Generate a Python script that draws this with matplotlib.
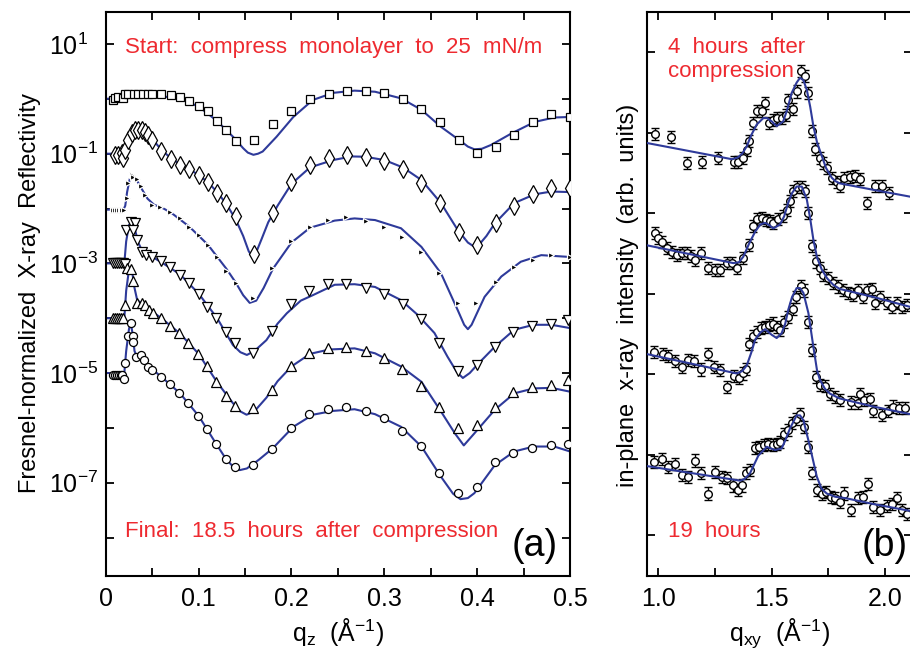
import numpy as np
import matplotlib
matplotlib.use('Agg')
from matplotlib import pyplot as plt
from matplotlib import font_manager
from matplotlib.ticker import FixedLocator, LogLocator, FuncFormatter, NullFormatter

# ---- panel (a): specular reflectivity, values are log10(R/RF) ----
sq_q = [0.008, 0.010, 0.0136, 0.019, 0.021, 0.024, 0.030, 0.035, 0.040, 0.045, 0.050, 0.060, 0.070,
        0.080, 0.090, 0.100, 0.110, 0.120, 0.130, 0.140, 0.160, 0.180, 0.200, 0.220, 0.240, 0.260,
        0.280, 0.300, 0.320, 0.340, 0.360, 0.380, 0.400, 0.420, 0.440, 0.460, 0.480, 0.500]
sq_r = [-0.02, 0.01, 0.04, 0.01, 0.09, 0.09, 0.09, 0.09, 0.09, 0.09, 0.09, 0.09, 0.07,
        0.03, -0.04, -0.13, -0.22, -0.40, -0.56, -0.77, -0.75, -0.46, -0.23, 0.0, 0.08, 0.15,
        0.15, 0.11, 0.0, -0.19, -0.42, -0.75, -0.98, -0.87, -0.65, -0.43, -0.28, -0.33]
sq_fit_q = [0.0, 0.02, 0.04, 0.06, 0.08, 0.10, 0.119, 0.137, 0.148, 0.153, 0.159, 0.164, 0.169,
            0.184, 0.202, 0.223, 0.245, 0.268, 0.29, 0.318, 0.34, 0.361, 0.383, 0.39, 0.397,
            0.405, 0.415, 0.437, 0.462, 0.483, 0.5]
sq_fit_r = [0.0, 0.02, 0.05, 0.05, 0.0, -0.14, -0.39, -0.69, -0.90, -0.98, -1.02, -1.0, -0.96,
            -0.69, -0.33, -0.02, 0.11, 0.15, 0.13, 0.01, -0.20, -0.51, -0.78, -0.87, -0.92,
            -0.91, -0.84, -0.63, -0.42, -0.34, -0.33]

di_q = [0.010, 0.0136, 0.017, 0.019, 0.021, 0.024, 0.028, 0.0315, 0.035, 0.039, 0.042, 0.046, 0.050,
        0.060, 0.070, 0.080, 0.090, 0.100, 0.110, 0.120, 0.130, 0.140, 0.160, 0.180, 0.200, 0.220,
        0.240, 0.260, 0.280, 0.300, 0.320, 0.340, 0.360, 0.380, 0.400, 0.420, 0.440, 0.460, 0.480, 0.500]
di_r = [-1.02, -1.02, -0.99, -1.08, -0.93, -0.75, -0.63, -0.57, -0.56, -0.57, -0.60, -0.66, -0.75,
        -0.95, -1.10, -1.21, -1.27, -1.39, -1.51, -1.71, -1.90, -2.14, -2.82, -2.09, -1.51, -1.21,
        -1.07, -1.02, -1.06, -1.13, -1.28, -1.54, -1.89, -2.42, -2.67, -2.26, -1.95, -1.74, -1.62, -1.62]
di_fit_q = [0.0, 0.018, 0.021, 0.025, 0.03, 0.037, 0.045, 0.05, 0.06, 0.07, 0.08, 0.09, 0.10, 0.11,
            0.12, 0.13, 0.14, 0.148, 0.154, 0.158, 0.162, 0.168, 0.175, 0.185, 0.2, 0.22, 0.245,
            0.265, 0.279, 0.30, 0.32, 0.34, 0.361, 0.379, 0.39, 0.399, 0.41, 0.419, 0.44, 0.462,
            0.48, 0.5]
di_fit_r = [-1.0, -1.0, -0.93, -0.72, -0.60, -0.55, -0.63, -0.73, -0.93, -1.08, -1.19, -1.28, -1.39,
            -1.52, -1.70, -1.92, -2.2, -2.5, -2.78, -2.88, -2.8, -2.55, -2.25, -1.95, -1.55, -1.25,
            -1.115, -1.05, -1.055, -1.115, -1.25, -1.48, -1.90, -2.39, -2.62, -2.72, -2.5, -2.27,
            -1.90, -1.74, -1.69, -1.70]

tr_q = [0.008, 0.010, 0.012, 0.014, 0.016, 0.018, 0.020, 0.0226, 0.0243, 0.028, 0.0297, 0.0333,
        0.0376, 0.0423, 0.0495, 0.058, 0.069, 0.080, 0.090, 0.100, 0.110, 0.120, 0.130, 0.140,
        0.159, 0.179, 0.199, 0.220, 0.239, 0.259, 0.280, 0.300, 0.319, 0.340, 0.359, 0.379,
        0.399, 0.420, 0.440, 0.460, 0.480, 0.500]
tr_r = [-2.02, -2.02, -2.02, -2.02, -2.02, -2.02, -2.02, -1.81, -1.54, -1.39, -1.42, -1.46,
        -1.59, -1.75, -1.94, -1.97, -2.06, -2.18, -2.33, -2.48, -2.66, -2.88, -3.13, -3.35,
        -3.64, -3.09, -2.59, -2.33, -2.20, -2.16, -2.23, -2.33, -2.51, -2.80, -3.17, -3.73,
        -3.73, -3.34, -3.06, -2.94, -2.85, -2.88]
tr_fit_q = [0.0, 0.019, 0.021, 0.023, 0.026, 0.029, 0.033, 0.038, 0.045, 0.052, 0.06, 0.07, 0.09,
            0.11, 0.13, 0.14, 0.148, 0.155, 0.162, 0.17, 0.18, 0.2, 0.22, 0.2466, 0.268, 0.29,
            0.318, 0.34, 0.361, 0.379, 0.386, 0.39, 0.394, 0.40, 0.408, 0.426, 0.447, 0.469,
            0.497, 0.5]
tr_fit_r = [-2.02, -2.02, -1.95, -1.7, -1.45, -1.40, -1.47, -1.62, -1.82, -1.93, -1.98, -2.07, -2.33,
            -2.66, -3.1, -3.35, -3.58, -3.72, -3.68, -3.45, -3.1, -2.62, -2.35, -2.22, -2.18, -2.21,
            -2.36, -2.70, -3.18, -3.85, -4.12, -4.20, -4.12, -3.9, -3.61, -3.24, -2.97, -2.85,
            -2.88, -2.89]

dn_q = [0.008, 0.010, 0.012, 0.014, 0.016, 0.019, 0.0208, 0.0218, 0.0272, 0.031, 0.0297, 0.0333,
        0.0387, 0.043, 0.0495, 0.0595, 0.069, 0.080, 0.0896, 0.100, 0.109, 0.119, 0.129, 0.139,
        0.159, 0.179, 0.199, 0.219, 0.239, 0.259, 0.280, 0.300, 0.320, 0.340, 0.359, 0.379,
        0.400, 0.419, 0.439, 0.459, 0.480, 0.4975]
dn_r = [-3.0, -3.0, -3.0, -3.0, -3.0, -3.0, -3.01, -2.39, -2.24, -2.26, -2.39, -2.57,
        -2.79, -2.85, -2.88, -2.96, -3.06, -3.21, -3.36, -3.56, -3.79, -4.0, -4.25, -4.46,
        -4.63, -4.23, -3.74, -3.50, -3.38, -3.38, -3.45, -3.56, -3.74, -4.02, -4.46, -4.97,
        -4.85, -4.53, -4.25, -4.15, -4.11, -4.03]
dn_fit_q = [0.0, 0.02, 0.022, 0.025, 0.028, 0.031, 0.035, 0.04, 0.05, 0.06, 0.08, 0.10, 0.12, 0.137,
            0.145, 0.152, 0.16, 0.173, 0.185, 0.195, 0.21, 0.223, 0.2466, 0.268, 0.29, 0.318,
            0.336, 0.354, 0.368, 0.378, 0.3846, 0.392, 0.40, 0.419, 0.44, 0.461, 0.48, 0.5]
dn_fit_r = [-3.0, -3.0, -2.6, -2.3, -2.25, -2.35, -2.62, -2.8, -2.88, -2.98, -3.2, -3.55, -4.0, -4.49,
            -4.62, -4.67, -4.6, -4.40, -4.1, -3.91, -3.68, -3.58, -3.39, -3.38, -3.43, -3.67,
            -3.94, -4.27, -4.70, -4.98, -5.09, -5.0, -4.85, -4.52, -4.21, -4.12, -4.12, -4.18]

up_q = [0.008, 0.010, 0.012, 0.014, 0.016, 0.019, 0.0208, 0.0226, 0.027, 0.0297, 0.0333, 0.0387,
        0.042, 0.047, 0.0505, 0.0595, 0.069, 0.079, 0.089, 0.0996, 0.109, 0.119, 0.129, 0.139,
        0.159, 0.179, 0.199, 0.219, 0.239, 0.259, 0.280, 0.300, 0.319, 0.339, 0.359, 0.379,
        0.3996, 0.419, 0.439, 0.459, 0.480, 0.4975]
up_r = [-4.0, -4.0, -4.0, -4.0, -4.0, -4.0, -3.76, -3.09, -3.11, -3.33, -3.72, -3.72,
        -3.76, -3.85, -3.91, -4.0, -4.14, -4.27, -4.46, -4.65, -4.88, -5.16, -5.42, -5.61,
        -5.64, -5.31, -4.88, -4.63, -4.54, -4.52, -4.60, -4.73, -4.93, -5.24, -5.62, -6.01,
        -5.95, -5.62, -5.34, -5.26, -5.22, -5.13]
up_fit_q = [0.0, 0.02, 0.022, 0.025, 0.028, 0.031, 0.034, 0.04, 0.05, 0.06, 0.08, 0.10, 0.12, 0.137,
            0.145, 0.1516, 0.16, 0.173, 0.185, 0.2, 0.22, 0.241, 0.268, 0.29, 0.318, 0.34, 0.361,
            0.376, 0.3856, 0.397, 0.419, 0.44, 0.461, 0.48, 0.5]
up_fit_r = [-4.0, -4.0, -3.5, -3.12, -3.1, -3.45, -3.68, -3.73, -3.88, -4.0, -4.28, -4.65, -5.17, -5.55,
            -5.70, -5.76, -5.70, -5.45, -5.15, -4.88, -4.65, -4.57, -4.55, -4.64, -4.88, -5.16, -5.70,
            -6.10, -6.32, -6.10, -5.67, -5.37, -5.28, -5.27, -5.34]

ci_q = [0.008, 0.010, 0.012, 0.014, 0.016, 0.018, 0.0197, 0.0208, 0.0236, 0.0272, 0.0297, 0.0297,
        0.0326, 0.0376, 0.0412, 0.0458, 0.0495, 0.0595, 0.0695, 0.079, 0.089, 0.0996, 0.109,
        0.119, 0.129, 0.139, 0.159, 0.179, 0.199, 0.219, 0.239, 0.259, 0.280, 0.300, 0.319,
        0.339, 0.359, 0.379, 0.3996, 0.419, 0.439, 0.459, 0.480, 0.4982]
ci_r = [-5.03, -5.03, -5.03, -5.03, -5.03, -5.03, -5.10, -4.81, -4.32, -4.08, -4.32, -4.43,
        -4.70, -4.68, -4.77, -4.89, -4.94, -5.07, -5.20, -5.36, -5.55, -5.78, -6.02,
        -6.30, -6.57, -6.72, -6.68, -6.39, -6.01, -5.75, -5.65, -5.62, -5.69, -5.82, -6.05,
        -6.33, -6.83, -7.18, -7.08, -6.62, -6.45, -6.37, -6.31, -6.29]
ci_fit_q = [0.0, 0.02, 0.022, 0.025, 0.027, 0.029, 0.031, 0.034, 0.04, 0.05, 0.06, 0.08, 0.10, 0.12,
            0.13, 0.138, 0.1444, 0.152, 0.165, 0.18, 0.202, 0.223, 0.245, 0.268, 0.29, 0.318, 0.34,
            0.361, 0.374, 0.382, 0.39, 0.397, 0.419, 0.44, 0.461, 0.483, 0.5]
ci_fit_r = [-5.0, -5.0, -4.6, -4.2, -4.08, -4.3, -4.6, -4.72, -4.78, -4.93, -5.07, -5.37, -5.78, -6.32,
            -6.58, -6.72, -6.77, -6.74, -6.58, -6.37, -5.98, -5.76, -5.69, -5.66, -5.75, -5.98, -6.34,
            -6.89, -7.2, -7.30, -7.28, -7.19, -6.68, -6.43, -6.34, -6.34, -6.43]

# ---- panel (b): in-plane diffraction, arbitrary offset units ----
h4_x = [0.985, 1.056, 1.125, 1.194, 1.265, 1.334, 1.353, 1.372, 1.39, 1.40, 1.419, 1.437, 1.456, 1.472,
        1.49, 1.505, 1.522, 1.544, 1.562, 1.573, 1.593, 1.61, 1.628, 1.647, 1.662, 1.679, 1.691, 1.713,
        1.728, 1.743, 1.765, 1.787, 1.80, 1.819, 1.846, 1.868, 1.89, 1.919, 1.956, 1.985, 2.019]
h4_y = [4.98, 4.95, 4.62, 4.64, 4.69, 4.63, 4.64, 4.69, 4.79, 4.89, 5.12, 5.27, 5.27, 5.37,
        5.12, 5.16, 5.18, 5.18, 5.22, 5.41, 5.29, 5.51, 5.76, 5.70, 5.49, 5.02, 4.80, 4.69,
        4.62, 4.56, 4.44, 4.39, 4.34, 4.44, 4.45, 4.46, 4.42, 4.13, 4.34, 4.34, 4.25]
h4_fit_x = [0.951, 1.324, 1.35, 1.37, 1.39, 1.41, 1.434, 1.463, 1.48, 1.50, 1.522, 1.551, 1.57, 1.588,
            1.61, 1.625, 1.64, 1.655, 1.67, 1.684, 1.70, 1.721, 1.74, 1.765, 1.78, 1.80, 1.948, 2.12]
h4_fit_y = [4.87, 4.67, 4.69, 4.74, 4.83, 4.97, 5.10, 5.18, 5.18, 5.14, 5.08, 5.14, 5.30, 5.49,
            5.62, 5.68, 5.65, 5.53, 5.32, 5.08, 4.88, 4.71, 4.56, 4.44, 4.40, 4.37, 4.29, 4.20]

h2_x = [0.985, 1.0, 1.015, 1.037, 1.059, 1.081, 1.103, 1.125, 1.143, 1.162, 1.187, 1.22, 1.25, 1.272,
        1.304, 1.324, 1.349, 1.375, 1.401, 1.419, 1.437, 1.456, 1.475, 1.493, 1.507, 1.527, 1.549,
        1.566, 1.581, 1.596, 1.613, 1.633, 1.647, 1.662, 1.677, 1.696, 1.713, 1.728, 1.75, 1.772,
        1.794, 1.816, 1.838, 1.86, 1.882, 1.901, 1.922, 1.941, 1.956, 1.978, 2.007, 2.03, 2.052,
        2.074, 2.096]
h2_y = [3.75, 3.69, 3.64, 3.57, 3.52, 3.48, 3.51, 3.50, 3.47, 3.42, 3.50, 3.32, 3.30, 3.30,
        3.38, 3.38, 3.32, 3.44, 3.61, 3.84, 3.93, 3.94, 3.92, 3.90, 3.88, 3.93, 3.96,
        4.04, 4.15, 4.27, 4.33, 4.33, 4.27, 4.00, 3.59, 3.40, 3.32, 3.23, 3.19, 3.13,
        3.09, 3.05, 3.01, 2.99, 3.05, 2.96, 3.05, 3.06, 2.88, 2.96, 2.88, 2.84, 2.88,
        2.84, 2.86]
h2_fit_x = [0.951, 1.331, 1.355, 1.375, 1.40, 1.427, 1.45, 1.471, 1.49, 1.507, 1.537, 1.555, 1.573,
            1.59, 1.61, 1.633, 1.655, 1.67, 1.684, 1.70, 1.721, 1.745, 1.772, 1.80, 1.948, 2.12]
h2_fit_y = [3.60, 3.38, 3.39, 3.46, 3.62, 3.77, 3.86, 3.88, 3.85, 3.81, 3.86, 3.96, 4.13,
            4.25, 4.33, 4.33, 4.17, 3.93, 3.67, 3.45, 3.30, 3.19, 3.11, 3.06, 2.96, 2.83]

h3_x = [0.981, 1.019, 1.044, 1.074, 1.103, 1.132, 1.159, 1.188, 1.218, 1.246, 1.272, 1.304, 1.334,
        1.357, 1.375, 1.387, 1.401, 1.416, 1.434, 1.452, 1.471, 1.49, 1.505, 1.522, 1.537, 1.554,
        1.573, 1.593, 1.607, 1.628, 1.644, 1.662, 1.679, 1.694, 1.713, 1.735, 1.757, 1.779, 1.80,
        1.848, 1.882, 1.89, 1.907, 1.934, 1.948, 1.985, 2.015, 2.037, 2.063, 2.088]
h3_y = [2.28, 2.25, 2.23, 2.16, 2.09, 2.18, 2.16, 2.06, 2.25, 2.09, 2.05, 1.84, 1.98,
        1.95, 2.01, 2.07, 2.38, 2.47, 2.53, 2.57, 2.59, 2.61, 2.63, 2.59, 2.55, 2.65,
        2.71, 2.81, 2.96, 3.09, 3.04, 2.65, 2.30, 1.97, 1.87, 1.85, 1.76, 1.72, 1.68,
        1.65, 1.64, 1.76, 1.68, 1.69, 1.55, 1.49, 1.55, 1.60, 1.58, 1.58]
h3_fit_x = [0.951, 1.346, 1.37, 1.39, 1.41, 1.427, 1.45, 1.471, 1.50, 1.522, 1.544, 1.56, 1.573,
            1.59, 1.61, 1.625, 1.64, 1.662, 1.684, 1.70, 1.713, 1.735, 1.757, 1.80, 1.948, 2.12]
h3_fit_y = [2.25, 2.01, 2.04, 2.11, 2.27, 2.43, 2.52, 2.56, 2.49, 2.45, 2.51, 2.63, 2.80,
            2.96, 3.07, 3.07, 3.01, 2.76, 2.34, 2.05, 1.93, 1.82, 1.76, 1.70, 1.60, 1.50]

h19_x = [0.981, 1.015, 1.044, 1.074, 1.103, 1.132, 1.162, 1.187, 1.22, 1.25, 1.28, 1.304, 1.331,
         1.353, 1.368, 1.387, 1.404, 1.427, 1.445, 1.466, 1.485, 1.505, 1.522, 1.537, 1.554, 1.573,
         1.588, 1.607, 1.625, 1.642, 1.662, 1.679, 1.699, 1.721, 1.74, 1.76, 1.779, 1.80, 1.819,
         1.848, 1.882, 1.904, 1.926, 1.948, 1.978, 2.007, 2.03, 2.052, 2.074, 2.096]
h19_y = [0.91, 0.95, 0.85, 0.89, 0.75, 0.73, 0.93, 0.77, 0.52, 0.79, 0.73, 0.71, 0.62,
         0.56, 0.62, 0.77, 0.81, 1.08, 1.10, 1.12, 1.14, 1.12, 1.14, 1.16, 1.26, 1.31,
         1.39, 1.45, 1.51, 1.35, 1.10, 0.77, 0.56, 0.52, 0.54, 0.48, 0.46, 0.41, 0.52,
         0.31, 0.46, 0.48, 0.64, 0.35, 0.31, 0.37, 0.39, 0.46, 0.31, 0.27]
h19_fit_x = [0.951, 1.36, 1.38, 1.404, 1.441, 1.478, 1.515, 1.544, 1.56, 1.581, 1.61, 1.625, 1.64,
             1.669, 1.699, 1.72, 1.743, 1.78, 1.831, 1.948, 2.12]
h19_fit_y = [0.86, 0.68, 0.70, 0.77, 0.99, 1.10, 1.06, 1.08, 1.18, 1.33, 1.49, 1.49, 1.43,
             1.10, 0.73, 0.58, 0.52, 0.48, 0.46, 0.39, 0.30]
err_b = 0.075

# ---- style ----
avail = {f.name for f in font_manager.fontManager.ttflist}
FONT = 'Liberation Sans Narrow' if 'Liberation Sans Narrow' in avail else 'Liberation Sans'
plt.rcParams['font.family'] = [FONT, 'DejaVu Sans']
plt.rcParams['mathtext.fontset'] = 'custom'
plt.rcParams['mathtext.rm'] = FONT
plt.rcParams['mathtext.default'] = 'regular'

BLUE = '#2E3A9A'
RED = '#EE2A30'
FS = 18

fig = plt.figure(figsize=(9.1, 6.52), dpi=100)
ax1 = fig.add_axes([0.1162, 0.1170, 0.5102, 0.8650])
ax2 = fig.add_axes([0.7113, 0.1170, 0.2911, 0.8650])

curves = [
    (sq_q, sq_r, sq_fit_q, sq_fit_r, dict(marker='s', ms=6.0, mfc='white', mec='black', mew=0.9)),
    (di_q, di_r, di_fit_q, di_fit_r, dict(marker='d', ms=9.0, mfc='white', mec='black', mew=0.9)),
    (tr_q, tr_r, tr_fit_q, tr_fit_r, dict(marker='>', ms=4.0, mfc='black', mec='white', mew=0.9)),
    (dn_q, dn_r, dn_fit_q, dn_fit_r, dict(marker='v', ms=6.5, mfc='white', mec='black', mew=0.9)),
    (up_q, up_r, up_fit_q, up_fit_r, dict(marker='^', ms=6.5, mfc='white', mec='black', mew=0.9)),
    (ci_q, ci_r, ci_fit_q, ci_fit_r, dict(marker='o', ms=5.8, mfc='white', mec='black', mew=0.9)),
]
for q, r, fq, fr, mk in curves:
    ax1.plot(fq, 10.0 ** np.array(fr), color=BLUE, lw=1.5, zorder=2)
    ax1.plot(q, 10.0 ** np.array(r), ls='none', zorder=3, **mk)

ax1.set_yscale('log')
ax1.set_xlim(0, 0.5)
ax1.set_ylim(10 ** -8.696, 10 ** 1.589)
ax1.xaxis.set_major_locator(FixedLocator([0, 0.1, 0.2, 0.3, 0.4, 0.5]))
ax1.xaxis.set_minor_locator(FixedLocator([0.05, 0.15, 0.25, 0.35, 0.45]))
ax1.xaxis.set_major_formatter(FuncFormatter(lambda v, p: '0' if v == 0 else '%.1f' % v))
ax1.yaxis.set_major_locator(LogLocator(base=10, subs=(1.0,), numticks=20))
ax1.yaxis.set_minor_locator(FixedLocator([]))
ax1.yaxis.set_major_formatter(FuncFormatter(
    lambda v, p: (r'$10^{%d}$' % round(np.log10(v))) if round(np.log10(v)) % 2 else ''))
ax1.set_xlabel(r'q$_{z}$  (Å$^{-1}$)', fontsize=FS, labelpad=4)

for px, py, fx, fy in [(h4_x, h4_y, h4_fit_x, h4_fit_y), (h2_x, h2_y, h2_fit_x, h2_fit_y),
                       (h3_x, h3_y, h3_fit_x, h3_fit_y), (h19_x, h19_y, h19_fit_x, h19_fit_y)]:
    ax2.errorbar(px, py, yerr=err_b, fmt='o', ms=5.5, mfc='white', mec='black', mew=1.0,
                 ecolor='black', elinewidth=1.0, capsize=2.8, capthick=1.0, zorder=2)
    ax2.plot(fx, fy, color=BLUE, lw=1.5, zorder=3)

ax2.set_xlim(0.951, 2.12)
ax2.set_ylim(-0.5, 6.5)
ax2.xaxis.set_major_locator(FixedLocator([1.0, 1.5, 2.0]))
ax2.xaxis.set_minor_locator(FixedLocator([1.25, 1.75]))
ax2.xaxis.set_major_formatter(FuncFormatter(lambda v, p: '%.1f' % v))
ax2.yaxis.set_major_locator(FixedLocator([0, 1, 2, 3, 4, 5, 6]))
ax2.yaxis.set_major_formatter(NullFormatter())
ax2.set_xlabel(r'q$_{xy}$  (Å$^{-1}$)', fontsize=FS, labelpad=4)

for ax in (ax1, ax2):
    for s in ax.spines.values():
        s.set_linewidth(1.5)
    ax.tick_params(which='both', direction='in', top=True, right=True, length=6, width=1.3,
                   labelsize=FS)
    ax.tick_params(axis='x', which='both', pad=8)
ax1.tick_params(axis='y', pad=41)
for lab in ax1.get_yticklabels():
    lab.set_ha('left')

ax1.text(0.0416, 0.927, 'Start:  compress  monolayer  to  25  mN/m', transform=ax1.transAxes,
         color=RED, fontsize=16, va='baseline')
ax1.text(0.0416, 0.069, 'Final:  18.5  hours  after  compression', transform=ax1.transAxes,
         color=RED, fontsize=16, va='baseline')
ax1.text(0.974, 0.035, '(a)', transform=ax1.transAxes, fontsize=27, ha='right', va='baseline')
ax2.text(0.078, 0.927, '4  hours  after', transform=ax2.transAxes,
         color=RED, fontsize=16, va='baseline')
ax2.text(0.078, 0.884, 'compression', transform=ax2.transAxes,
         color=RED, fontsize=16, va='baseline')
ax2.text(0.078, 0.069, '19  hours', transform=ax2.transAxes, color=RED, fontsize=16, va='baseline')
ax2.text(0.985, 0.035, '(b)', transform=ax2.transAxes, fontsize=27, ha='right', va='baseline')

fig.text(30 / 910, 1 - 293 / 652, 'Fresnel-normalized  X-ray  Reflectivity', rotation=90,
         ha='center', va='center', fontsize=17)
fig.text(628 / 910, 1 - 295 / 652, 'in-plane  x-ray  intensity  (arb.  units)', rotation=90,
         ha='center', va='center', fontsize=17)

fig.savefig('out.png', dpi=100)
